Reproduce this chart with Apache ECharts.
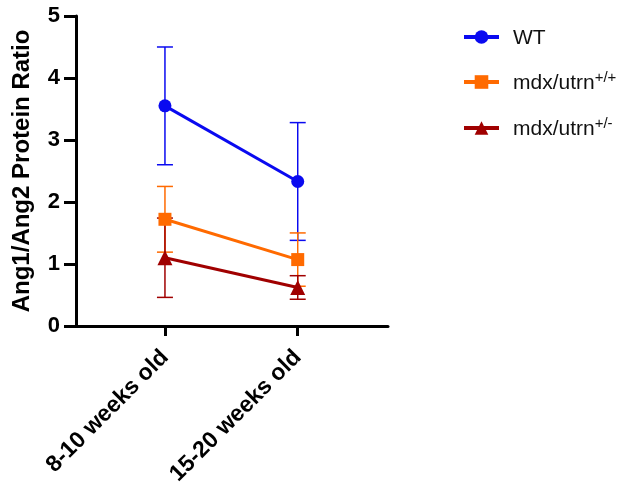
<!DOCTYPE html>
<html>
<head>
<meta charset="utf-8">
<script src="https://cdn.jsdelivr.net/npm/echarts@6/dist/echarts.min.js"></script>
<style>
  html, body { margin: 0; padding: 0; background: #fff; }
  #chart { width: 637px; height: 488px; }
</style>
</head>
<body>
<div id="chart"></div>
<script>
// categories (x positions 1, 2)
var ageGroups = ['8-10 weeks old', '15-20 weeks old'];
var seriesNames = ['WT', 'mdx/utrn+/+', 'mdx/utrn+/-'];
var colors = ['#0a0af0', '#ff6a00', '#a00000'];
var symbols = ['circle', 'rect', 'triangle'];

// means and SD
var wtMean = [3.55, 2.33];
var wtErr = [0.95, 0.95];
var utrnPPMean = [1.72, 1.07];
var utrnPPErr = [0.53, 0.43];
var utrnPMMean = [1.10, 0.62];
var utrnPMErr = [0.64, 0.19];

var means = [wtMean, utrnPPMean, utrnPMMean];
var errs = [wtErr, utrnPPErr, utrnPMErr];

var chart = echarts.init(document.getElementById('chart'));

var series = [];
// error bars first so markers sit on top
means.forEach(function (m, si) {
    var d = m.map(function (v, i) { return [i + 1, v - errs[si][i], v + errs[si][i]]; });
    series.push({
        type: 'custom',
        name: 'err-' + si,
        z: 1,
        silent: true,
        data: d,
        renderItem: function (params, api) {
            var lo = api.coord([api.value(0), api.value(1)]);
            var hi = api.coord([api.value(0), api.value(2)]);
            var hw = 8;
            var st = { stroke: colors[si], lineWidth: 1.5 };
            return {
                type: 'group',
                children: [
                    { type: 'line', shape: { x1: hi[0], y1: hi[1], x2: lo[0], y2: lo[1] }, style: st },
                    { type: 'line', shape: { x1: hi[0] - hw, y1: hi[1], x2: hi[0] + hw, y2: hi[1] }, style: st },
                    { type: 'line', shape: { x1: lo[0] - hw, y1: lo[1], x2: lo[0] + hw, y2: lo[1] }, style: st }
                ]
            };
        }
    });
});
means.forEach(function (m, si) {
    series.push({
        type: 'line',
        name: seriesNames[si],
        z: 3,
        data: m.map(function (v, i) { return [i + 1, v]; }),
        symbol: symbols[si],
        symbolSize: si === 2 ? 15 : 13,
        lineStyle: { color: colors[si], width: 3 },
        itemStyle: { color: colors[si] }
    });
});

var option = {
    animation: false,
    backgroundColor: '#fff',
    grid: { left: 76, right: 249, top: 16, bottom: 161 },
    legend: {
        orient: 'vertical',
        left: 457,
        top: 23,
        itemGap: 21,
        itemWidth: 35,
        itemHeight: 17,
        data: seriesNames,
        lineStyle: { width: 4 },
        formatter: function (name) {
            var i = name.indexOf('+');
            if (i < 0) return '{a|' + name + '}';
            return '{a|' + name.slice(0, i) + '}{s|' + name.slice(i) + '}';
        },
        textStyle: {
            color: '#111',
            fontFamily: 'Liberation Sans, Arial',
            fontSize: 21,
            padding: [0, 0, 0, 9],
            rich: {
                a: { fontSize: 21, fontFamily: 'Liberation Sans, Arial', color: '#111', verticalAlign: 'bottom', lineHeight: 24 },
                s: { fontSize: 15, fontFamily: 'Liberation Sans, Arial', color: '#111', verticalAlign: 'top', lineHeight: 24, padding: [0, 0, 10, 0] }
            }
        }
    },
    xAxis: {
        type: 'value',
        min: 1 - 0.67,
        max: 2 + 0.68,
        splitLine: { show: false },
        axisLine: { onZero: false, lineStyle: { color: '#000', width: 3 } },
        axisTick: { customValues: [1, 2], length: 10, lineStyle: { color: '#000', width: 3 } },
        axisLabel: {
            customValues: [1, 2],
            rotate: 45,
            margin: 28,
            formatter: function (v) { return ageGroups[Math.round(v) - 1] || ''; },
            color: '#000',
            fontWeight: 'bold',
            fontSize: 23,
            fontFamily: 'Liberation Sans, Arial'
        }
    },
    yAxis: {
        type: 'value',
        min: 0,
        max: 5,
        interval: 1,
        name: 'Ang1/Ang2 Protein Ratio',
        nameLocation: 'middle',
        nameGap: 42,
        nameTextStyle: { color: '#000', fontWeight: 'bold', fontSize: 24, fontFamily: 'Liberation Sans, Arial' },
        splitLine: { show: false },
        axisLine: { show: true, lineStyle: { color: '#000', width: 3 } },
        axisTick: { show: true, length: 12, lineStyle: { color: '#000', width: 3 } },
        axisLabel: { color: '#000', fontWeight: 'bold', fontSize: 22, margin: 16, fontFamily: 'Liberation Sans, Arial' }
    },
    series: series
};

chart.setOption(option);
</script>
</body>
</html>
